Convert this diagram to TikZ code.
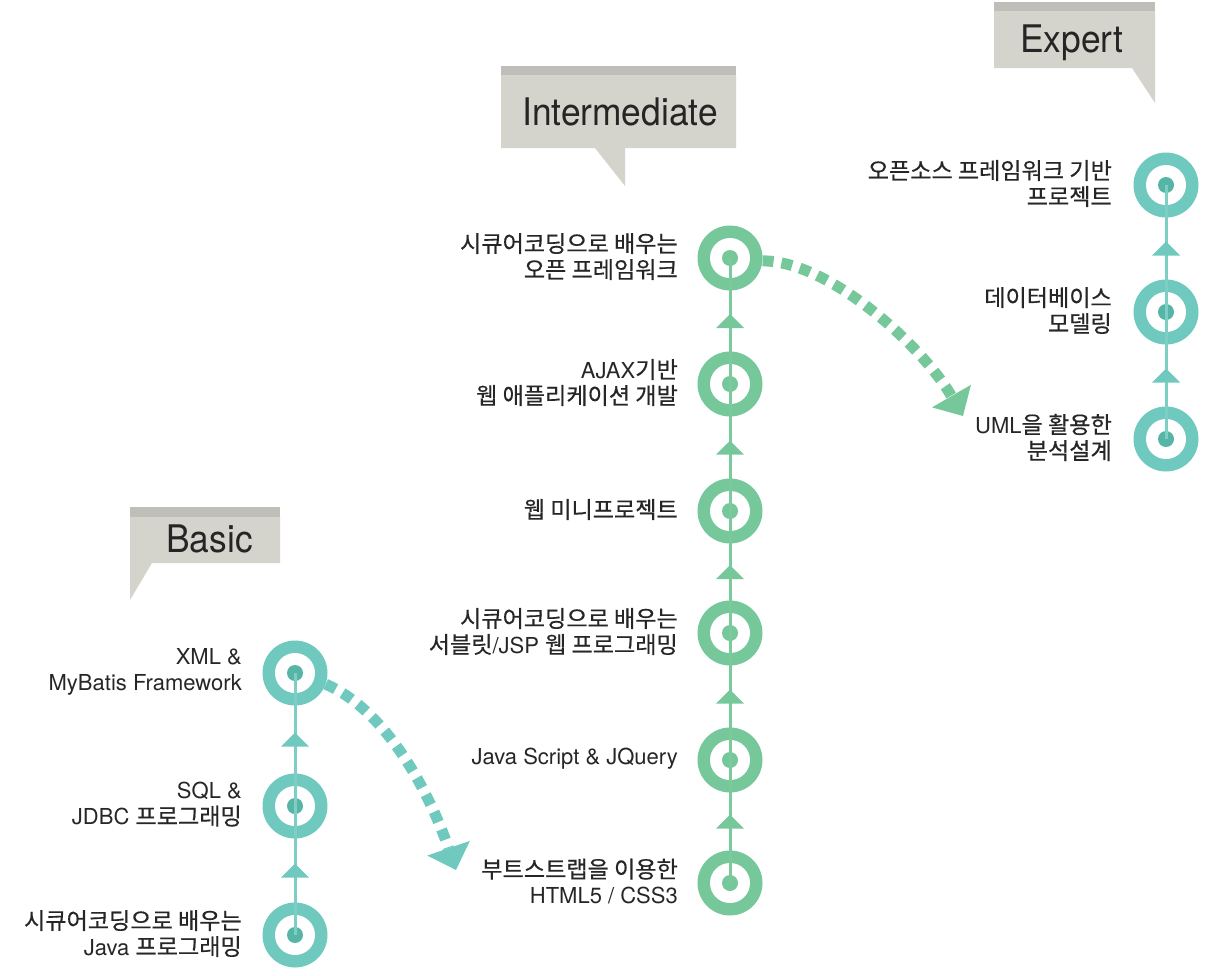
\documentclass[tikz,border=0pt]{standalone}
\usepackage{fontspec}
\usepackage{graphicx}
\setmainfont{TeX Gyre Heros}
\newfontfamily\kr{Noto Sans CJK KR}[Scale=1.05,FakeBold=0.5]
\usetikzlibrary{arrows.meta,calc}
\definecolor{cteal}{HTML}{70C9BE}
\definecolor{ctealline}{HTML}{7DCEC4}
\definecolor{ctealdot}{HTML}{57B5A6}
\definecolor{cgreen}{HTML}{76C89A}
\definecolor{cgreenline}{HTML}{7BCA9E}
\definecolor{cbox}{HTML}{D4D3CC}
\definecolor{cstrip}{HTML}{BFBEB9}
\definecolor{ctitle}{HTML}{252525}
\definecolor{ctext}{HTML}{262626}
\begin{document}
\begin{tikzpicture}[x=1pt,y=-1pt,
  tnode/.style={circle,minimum size=65pt,inner sep=0pt,fill=cteal,
    path picture={\fill[white] (path picture bounding box.center) circle[radius=20pt];
                  \fill[ctealdot] (path picture bounding box.center) circle[radius=8pt];}},
  gnode/.style={circle,minimum size=65pt,inner sep=0pt,fill=cgreen,
    path picture={\fill[white] (path picture bounding box.center) circle[radius=20pt];
                  \fill[cgreen] (path picture bounding box.center) circle[radius=8pt];}},
  lbl/.style={anchor=east,align=right,inner sep=0pt,yshift=1.5pt,
    font=\fontsize{22}{26}\selectfont,text=ctext},
  calltext/.style={anchor=base,inner sep=0pt,font=\fontsize{38}{40}\selectfont,text=ctitle},
  vline/.style={line width=3pt},
  dasharrow/.style={line width=11pt,dash pattern=on 11pt off 8pt,
    -{Triangle[width=45pt,length=23pt,line width=0pt]}},
]
\useasboundingbox (0,0) rectangle (1208,975);

% ---------- callouts ----------
\fill[cbox] (130,517) -- (280,517) -- (280,563) -- (152,563) -- (130,600) -- cycle;
\fill[cstrip] (130,507) rectangle (280,517);
\node[calltext] (tbasic) at (209.5,552) {\scalebox{0.93}[1]{Basic}};

\fill[cbox] (501,75) -- (736,75) -- (736,148) -- (625,148) -- (625,186) -- (595,148) -- (501,148) -- cycle;
\fill[cstrip] (501,66) rectangle (736,75);
\node[calltext] (tinter) at (620,125) {\scalebox{0.93}[1]{Intermediate}};

\fill[cbox] (994,11) -- (1155,11) -- (1155,103) -- (1132,68) -- (994,68) -- cycle;
\fill[cstrip] (994,2) rectangle (1155,11);
\node[calltext] (texpert) at (1072,52) {\scalebox{0.93}[1]{Expert}};

% ---------- nodes ----------
\node[tnode] (b1) at (295,673) {};
\node[tnode] (b2) at (295,806) {};
\node[tnode] (b3) at (295,935) {};

\node[gnode] (i1) at (730,883) {};
\node[gnode] (i2) at (730,760) {};
\node[gnode] (i3) at (730,633) {};
\node[gnode] (i4) at (730,511) {};
\node[gnode] (i5) at (730,384) {};
\node[gnode] (i6) at (730,258) {};

\node[tnode] (e1) at (1166,439) {};
\node[tnode] (e2) at (1166,312) {};
\node[tnode] (e3) at (1166,185) {};

% ---------- vertical lines ----------
\draw[vline,ctealline] (b3.center) -- (b1.center);
\draw[vline,cgreenline] (i1.center) -- (i6.center);
\draw[vline,ctealline] (e1.center) -- (e3.center);

\foreach \a/\b in {b3/b2,b2/b1,e1/e2,e2/e3}
  \fill[cteal] ($(\a)!0.5!(\b)$) ++(0,-7) -- ++(14,14) -- ++(-28,0) -- cycle;
\foreach \a/\b in {i1/i2,i2/i3,i3/i4,i4/i5,i5/i6}
  \fill[cgreen] ($(\a)!0.5!(\b)$) ++(0,-7) -- ++(14,14) -- ++(-28,0) -- cycle;

% ---------- dashed arrows ----------
\coordinate (bend) at (456,870);
\coordinate (iend) at (963,416);
\draw[dasharrow,cteal] (b1.-20) .. controls (390,712) and (432,800) .. (bend);
\draw[dasharrow,cgreen] (i6.-5) .. controls (830,261) and (923,347) .. (iend);

% ---------- labels ----------
\node[lbl] (lb1) at ([xshift=-53pt]b1.center) {XML \&\\MyBatis Framework};
\node[lbl] (lb2) at ([xshift=-53pt]b2.center) {SQL \&\\JDBC {\kr 프로그래밍}};
\node[lbl] (lb3) at ([xshift=-53pt]b3.center) {{\kr 시큐어코딩으로 배우는}\\Java {\kr 프로그래밍}};

\node[lbl] (li1) at ([xshift=-52pt]i1.center) {{\kr 부트스트랩을 이용한}\\HTML5 / CSS3};
\node[lbl] (li2) at ([xshift=-52pt]i2.center) {Java Script \& JQuery};
\node[lbl] (li3) at ([xshift=-52pt]i3.center) {{\kr 시큐어코딩으로 배우는}\\{\kr 서블릿}/JSP {\kr 웹 프로그래밍}};
\node[lbl] (li4) at ([xshift=-52pt]i4.center) {{\kr 웹 미니프로젝트}};
\node[lbl] (li5) at ([xshift=-52pt]i5.center) {AJAX{\kr 기반}\\{\kr 웹 애플리케이션 개발}};
\node[lbl] (li6) at ([xshift=-52pt]i6.center) {{\kr 시큐어코딩으로 배우는}\\{\kr 오픈 프레임워크}};

\node[lbl] (le1) at ([xshift=-54pt]e1.center) {UML{\kr 을 활용한}\\{\kr 분석설계}};
\node[lbl] (le2) at ([xshift=-54pt]e2.center) {{\kr 데이터베이스}\\{\kr 모델링}};
\node[lbl] (le3) at ([xshift=-54pt]e3.center) {{\kr 오픈소스 프레임워크 기반}\\{\kr 프로젝트}};
\end{tikzpicture}
\end{document}
